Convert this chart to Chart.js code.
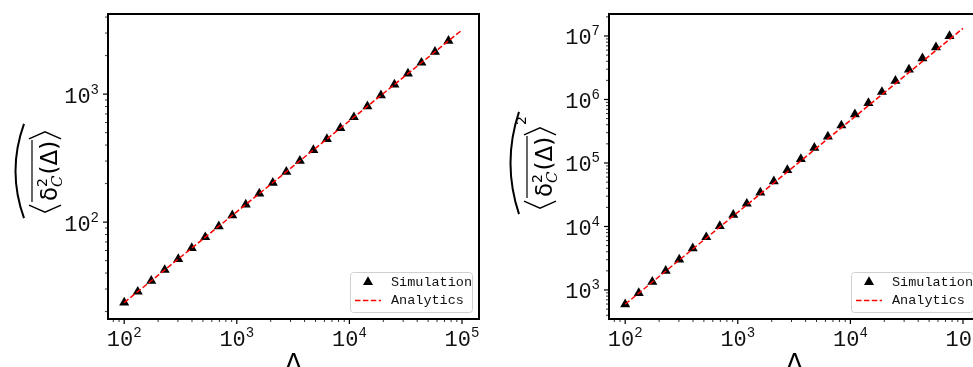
<!DOCTYPE html>
<html>
<head>
<meta charset="utf-8">
<script src="https://cdn.jsdelivr.net/npm/chart.js@4.4.0/dist/chart.umd.min.js"></script>
<style>
html, body { margin: 0; padding: 0; width: 973px; height: 367px; overflow: hidden; background: #fff; }
.panel { position: absolute; top: 0; height: 390px; }
#left { left: 0; width: 490px; }
#right { left: 490px; width: 500px; }
</style>
</head>
<body>
<div class="panel" id="left"><canvas id="msd" width="490" height="390"></canvas></div>
<div class="panel" id="right"><canvas id="msdSq" width="500" height="390"></canvas></div>
<script>
// lag times (Delta) of the simulated points
const lags = [100, 132, 174, 229, 302, 398, 525, 692, 912, 1202, 1585, 2089, 2754,
              3631, 4786, 6310, 8318, 10965, 14454, 19055, 25119, 33113, 43652, 57544, 75858];

// left panel: <delta^2(Delta)>
const msdSim = [23.5, 28.6, 34.8, 42.3, 51.5, 62.7, 76.2, 92.7, 113, 137, 167, 203, 247,
                301, 366, 446, 542, 660, 803, 977, 1189, 1446, 1760, 2142, 2606];
const fitLags = [100, 100000];
const msdFit = [23.5, 3170];

// right panel: <delta^2(Delta)>^2
const msdSqSim = [596, 893, 1340, 2009, 3013, 4519, 6776, 10162, 15241, 22856, 34277, 51404, 77090,
                  115611, 173380, 260016, 389942, 584790, 877000, 1315000, 1972000, 2958000, 4436000, 6653000, 9977000];
const msdSqFit = [596, 13200000];

// labelled ticks
const xTicks = [100, 1000, 10000, 100000];
const msdTicks = [100, 1000];
const msdSqTicks = [1e3, 1e4, 1e5, 1e6, 1e7];

const MONO = '"Liberation Mono", "DejaVu Sans Mono", monospace';
const SANS = '"DejaVu Sans", sans-serif';

function minorTicks(min, max) {
    let out = [];
    for (let e = Math.floor(Math.log10(min)); e <= Math.ceil(Math.log10(max)); e++) {
        for (let k = 1; k < 10; k++) {
            let v = k * Math.pow(10, e);
            if (v >= min && v <= max) out.push(v);
        }
    }
    return out;
}

function drawPow(ctx, x, y, exp, align) {
    // "10" plus raised exponent; align: 'center' (x axis) or 'right' (y axis)
    ctx.font = '22px ' + MONO;
    let w1 = ctx.measureText('10').width;
    ctx.font = '14px ' + MONO;
    let w2 = ctx.measureText(String(exp)).width;
    let x0 = align === 'center' ? x - (w1 + w2) / 2 : x - w1 - w2;
    ctx.textAlign = 'left';
    ctx.textBaseline = 'alphabetic';
    ctx.font = '22px ' + MONO;
    ctx.fillText('10', x0, y);
    ctx.font = '14px ' + MONO;
    ctx.fillText(String(exp), x0 + w1, y - 9);
}

function drawBracket(ctx, u, dir) {
    // angle bracket, local coords: u along text, v down
    ctx.beginPath();
    ctx.moveTo(u + 7 * dir, -28);
    ctx.lineTo(u, -12);
    ctx.lineTo(u + 7 * dir, 4);
    ctx.stroke();
}

function drawYLabel(ctx, baseX, midY, squared) {
    ctx.save();
    ctx.translate(baseX, midY);
    ctx.rotate(-Math.PI / 2);
    ctx.fillStyle = '#000';
    ctx.strokeStyle = '#000';
    ctx.textBaseline = 'alphabetic';
    ctx.textAlign = 'left';
    const big = '23px ' + SANS, small = '14px ' + SANS, script = 'italic 15px "DejaVu Serif", serif';
    ctx.font = big;
    let wd = ctx.measureText('\u03b4').width;
    let wp = ctx.measureText('(\u0394)').width;
    ctx.font = small;
    let ws = ctx.measureText('2').width;
    ctx.font = script;
    let wc = ctx.measureText('C').width;
    let wst = Math.max(ws, wc) + 1;
    let total = 9 + 2 + wd + wst + wp + 2 + 9;
    let u = -total / 2;
    ctx.lineWidth = 1.4;
    drawBracket(ctx, u, 1);
    let olStart = u + 10;
    u += 11;
    ctx.font = big;
    ctx.fillText('\u03b4', u, 0);
    u += wd;
    ctx.font = small;
    ctx.fillText('2', u, -10);
    ctx.font = script;
    ctx.fillText('C', u, 5);
    u += wst;
    ctx.font = big;
    ctx.fillText('(\u0394)', u, 0);
    u += wp;
    let olEnd = u + 1;
    u += 2;
    drawBracket(ctx, u + 7, -1);
    u += 9;
    if (squared) {
        ctx.font = small;
        ctx.fillText('2', u + 1, -26);
    }
    // overline
    ctx.lineWidth = 1.2;
    ctx.beginPath();
    ctx.moveTo(olStart, -25);
    ctx.lineTo(olEnd, -25);
    ctx.stroke();
    // large arc over the whole expression
    let a0 = -total / 2 - 6, a1 = total / 2 + 6 + (squared ? 8 : 0);
    ctx.lineWidth = 2;
    ctx.beginPath();
    ctx.moveTo(a0, -33);
    ctx.quadraticCurveTo((a0 + a1) / 2, -50, a1, -33);
    ctx.stroke();
    ctx.restore();
}

const panelPlugin = {
    id: 'panel',
    afterDatasetsDraw(chart, args, opts) {
        const {ctx, chartArea: ca, scales: {x, y}} = chart;
        ctx.save();
        ctx.strokeStyle = '#000';
        ctx.fillStyle = '#111';
        // tick marks
        minorTicks(x.min, x.max).forEach(v => {
            let px = x.getPixelForValue(v);
            let major = xTicks.includes(v);
            ctx.lineWidth = major ? 1.2 : 0.8;
            ctx.beginPath();
            ctx.moveTo(px, ca.bottom);
            ctx.lineTo(px, ca.bottom + (major ? 5 : 3));
            ctx.stroke();
        });
        minorTicks(y.min, y.max).forEach(v => {
            let py = y.getPixelForValue(v);
            let major = opts.yTicks.includes(v);
            ctx.lineWidth = major ? 1.2 : 0.8;
            ctx.beginPath();
            ctx.moveTo(ca.left, py);
            ctx.lineTo(ca.left - (major ? 5 : 3), py);
            ctx.stroke();
        });
        // frame
        ctx.lineWidth = 2;
        ctx.strokeRect(ca.left, ca.top, ca.right - ca.left, ca.bottom - ca.top);
        // tick labels
        xTicks.forEach(v => drawPow(ctx, x.getPixelForValue(v), ca.bottom + 27, Math.round(Math.log10(v)), 'center'));
        opts.yTicks.forEach(v => drawPow(ctx, ca.left - 9, y.getPixelForValue(v) + 8.5, Math.round(Math.log10(v)), 'right'));
        // x title
        ctx.font = '25px ' + SANS;
        ctx.textAlign = 'center';
        ctx.textBaseline = 'alphabetic';
        ctx.fillStyle = '#000';
        ctx.fillText('\u0394', (ca.left + ca.right) / 2, 371);
        // y title
        drawYLabel(ctx, opts.labelX, opts.labelY, opts.squared);
        // legend
        let bw = 122, bh = 40;
        let bx = ca.right - 7 - bw, by = ca.bottom - 7 - bh;
        ctx.fillStyle = 'rgba(255,255,255,0.8)';
        ctx.strokeStyle = '#d0d0d0';
        ctx.lineWidth = 1;
        ctx.beginPath();
        ctx.roundRect(bx + 0.5, by + 0.5, bw, bh, 3);
        ctx.fill();
        ctx.stroke();
        let r1 = by + 10, r2 = by + 28.5;
        ctx.fillStyle = '#000';
        let tx = bx + 18, rr = 5.8;
        ctx.beginPath();
        ctx.moveTo(tx, r1 - rr);
        ctx.lineTo(tx + rr * 0.866, r1 + rr / 2);
        ctx.lineTo(tx - rr * 0.866, r1 + rr / 2);
        ctx.closePath();
        ctx.fill();
        ctx.strokeStyle = '#ff0000';
        ctx.lineWidth = 1.5;
        ctx.setLineDash([5.5, 2.4]);
        ctx.beginPath();
        ctx.moveTo(bx + 5, r2);
        ctx.lineTo(bx + 31, r2);
        ctx.stroke();
        ctx.setLineDash([]);
        ctx.fillStyle = '#111';
        ctx.font = '13.5px ' + MONO;
        ctx.textAlign = 'left';
        ctx.textBaseline = 'middle';
        ctx.fillText('Simulation', bx + 41, r1);
        ctx.fillText('Analytics', bx + 41, r2);
        ctx.restore();
    }
};

function makeChart(id, simY, fitY, yMin, yMax, yTicks, axisW, padRight, labelX, labelY, squared) {
    return new Chart(document.getElementById(id), {
        type: 'scatter',
        data: {
            datasets: [
                {
                    label: 'Analytics',
                    data: fitLags.map((v, i) => ({x: v, y: fitY[i]})),
                    showLine: true,
                    borderColor: '#ff0000',
                    borderWidth: 1.5,
                    borderDash: [5.5, 2.4],
                    pointRadius: 0,
                    order: 0
                },
                {
                    label: 'Simulation',
                    data: lags.map((v, i) => ({x: v, y: simY[i]})),
                    pointStyle: 'triangle',
                    pointRadius: 5.8,
                    backgroundColor: '#000',
                    borderColor: '#000',
                    borderWidth: 0,
                    order: 1
                }
            ]
        },
        options: {
            responsive: false,
            animation: false,
            devicePixelRatio: 1,
            layout: {padding: {left: 0, top: 14, right: padRight, bottom: 0}},
            plugins: {
                legend: {display: false},
                tooltip: {enabled: false},
                panel: {yTicks: yTicks, labelX: labelX, labelY: labelY, squared: squared}
            },
            scales: {
                x: {
                    type: 'logarithmic', min: 71.8, max: 141600,
                    ticks: {display: false}, grid: {display: false}, border: {display: false},
                    afterFit: s => { s.height = 390 - 319; }
                },
                y: {
                    type: 'logarithmic', min: yMin, max: yMax,
                    ticks: {display: false}, grid: {display: false}, border: {display: false},
                    afterFit: s => { s.width = axisW; }
                }
            }
        },
        plugins: [panelPlugin]
    });
}

makeChart('msd', msdSim, msdFit, 17.5, 4227, msdTicks, 108, 11, 57, 171, false);
makeChart('msdSq', msdSqSim, msdSqFit, 349, 2.22e7, msdSqTicks, 119, 10, 62, 167, true);
</script>
</body>
</html>
